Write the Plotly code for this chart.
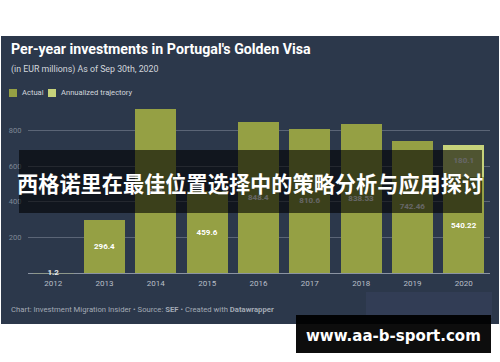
import plotly.graph_objects as go

# ---- data ----
years = ["2012", "2013", "2014", "2015", "2016", "2017", "2018", "2019", "2020"]
actual = [1.2, 296.4, 918.0, 459.6, 848.4, 810.6, 838.53, 742.46, 540.22]
actual_labels = ["1.2", "296.4", "918", "459.6", "848.4", "810.6", "838.53", "742.46", "540.22"]
annualized = [None, None, None, None, None, None, None, None, 180.1]
annualized_labels = ["", "", "", "", "", "", "", "", "180.1"]
y_ticks = [200, 400, 600, 800]

W, H = 500, 362
def py(p):  # pixel y -> paper y
    return 1 - p / H
def px(p):
    return p / W

C_ACT = "#95a044"
C_ANN = "#c6d27a"
BG = "#2c384b"

fig = go.Figure()

fig.add_trace(go.Bar(
    x=years, y=actual, text=[""] + actual_labels[1:],
    marker=dict(color=C_ACT, line=dict(width=0)),
    textposition="inside", insidetextanchor="middle",
    textfont=dict(family="Roboto", size=8, color="white", weight="bold"),
    name="Actual", hoverinfo="skip",
))
fig.add_trace(go.Bar(
    x=years, y=annualized, text=annualized_labels,
    marker=dict(color=C_ANN, line=dict(width=0)),
    textposition="inside", insidetextanchor="middle",
    textfont=dict(family="Roboto", size=8, color="white", weight="bold"),
    name="Annualized trajectory", hoverinfo="skip",
))
# tiny 2012 value label sits on the baseline
fig.add_trace(go.Scatter(
    x=years[:1], y=actual[:1], text=actual_labels[:1], mode="text",
    textfont=dict(family="Roboto", size=8, color="#e6e8ec", weight="bold"),
    hoverinfo="skip", cliponaxis=False,
))

shapes = [
    # dark panel
    dict(type="rect", xref="paper", yref="paper", x0=px(1), x1=px(499), y0=py(324), y1=py(36),
         fillcolor=BG, line=dict(width=0), layer="below"),
    # faint blur patch
    dict(type="rect", xref="paper", yref="paper", x0=px(366), x1=px(492), y0=py(318), y1=py(292),
         fillcolor="rgba(90,90,140,0.16)", line=dict(width=0), layer="below"),
    # legend swatches
    dict(type="rect", xref="paper", yref="paper", x0=px(9), x1=px(17), y0=py(97), y1=py(89),
         fillcolor=C_ACT, line=dict(width=0)),
    dict(type="rect", xref="paper", yref="paper", x0=px(48), x1=px(56), y0=py(97), y1=py(89),
         fillcolor=C_ANN, line=dict(width=0)),
    # chinese banner
    dict(type="rect", xref="paper", yref="paper", x0=px(19), x1=px(482), y0=py(213), y1=py(150),
         fillcolor="rgba(0,0,0,0.6)", line=dict(width=0), layer="above"),
    # watermark box
    dict(type="rect", xref="paper", yref="paper", x0=px(296), x1=px(491), y0=py(353), y1=py(315),
         fillcolor="rgba(0,0,0,0.95)", line=dict(width=0), layer="above"),
]

ann = [
    dict(text="<b>Per-year investments in Portugal's Golden Visa</b>", x=px(9), y=py(49),
         xanchor="left", yanchor="middle", font=dict(family="Roboto", size=14.2, color="white")),
    dict(text="(in EUR millions) As of Sep 30th, 2020", x=px(9), y=py(69),
         xanchor="left", yanchor="middle", font=dict(family="Roboto", size=8.8, color="#d2d6dc")),
    dict(text="Actual", x=px(20), y=py(93), xanchor="left", yanchor="middle",
         font=dict(family="Roboto", size=7.6, color="#d2d6dc")),
    dict(text="Annualized trajectory", x=px(59), y=py(93), xanchor="left", yanchor="middle",
         font=dict(family="Roboto", size=7.6, color="#d2d6dc")),
    dict(text="Chart: Investment Migration Insider • Source: <b>SEF</b> • Created with <b>Datawrapper</b>",
         x=px(9), y=py(309), xanchor="left", yanchor="middle",
         font=dict(family="Roboto", size=7.7, color="#a3aab5")),
    dict(text="<b>西格诺里在最佳位置选择中的策略分析与应用探讨</b>", x=px(250), y=py(182),
         xanchor="center", yanchor="middle",
         font=dict(family="Noto Sans CJK SC", size=21.2, color="white")),
    dict(text="<b>www.aa-b-sport.com</b>", x=px(393), y=py(336), xanchor="center", yanchor="middle",
         font=dict(family="DejaVu Sans", size=15, color="white")),
]
for a in ann:
    a.update(xref="paper", yref="paper", showarrow=False)

fig.update_layout(
    width=W, height=H, margin=dict(l=0, r=0, t=0, b=0),
    paper_bgcolor="white", plot_bgcolor="rgba(0,0,0,0)",
    barmode="stack", bargap=0.2, showlegend=False,
    shapes=shapes, annotations=ann,
    xaxis=dict(domain=[px(27.5), px(489.5)], showgrid=False, zeroline=False, showline=False,
               categoryorder="array", categoryarray=years,
               ticks="", tickfont=dict(family="Roboto", size=8, color="#b9bfc8"),
               ticklabelstandoff=4, fixedrange=True),
    yaxis=dict(domain=[py(273.3), py(103.6)], range=[0, 950], tickvals=y_ticks,
               showgrid=True, gridcolor="#5b6576", gridwidth=1,
               zeroline=True, zerolinecolor="#8b94a2", zerolinewidth=1,
               showline=False, ticks="", tickfont=dict(family="Roboto", size=7.5, color="#7f8896"),
               ticklabelstandoff=5, fixedrange=True),
)

fig.write_html("out.html", config={"displayModeBar": False},
               post_script="document.body.style.margin='0';document.body.style.overflow='hidden';")
